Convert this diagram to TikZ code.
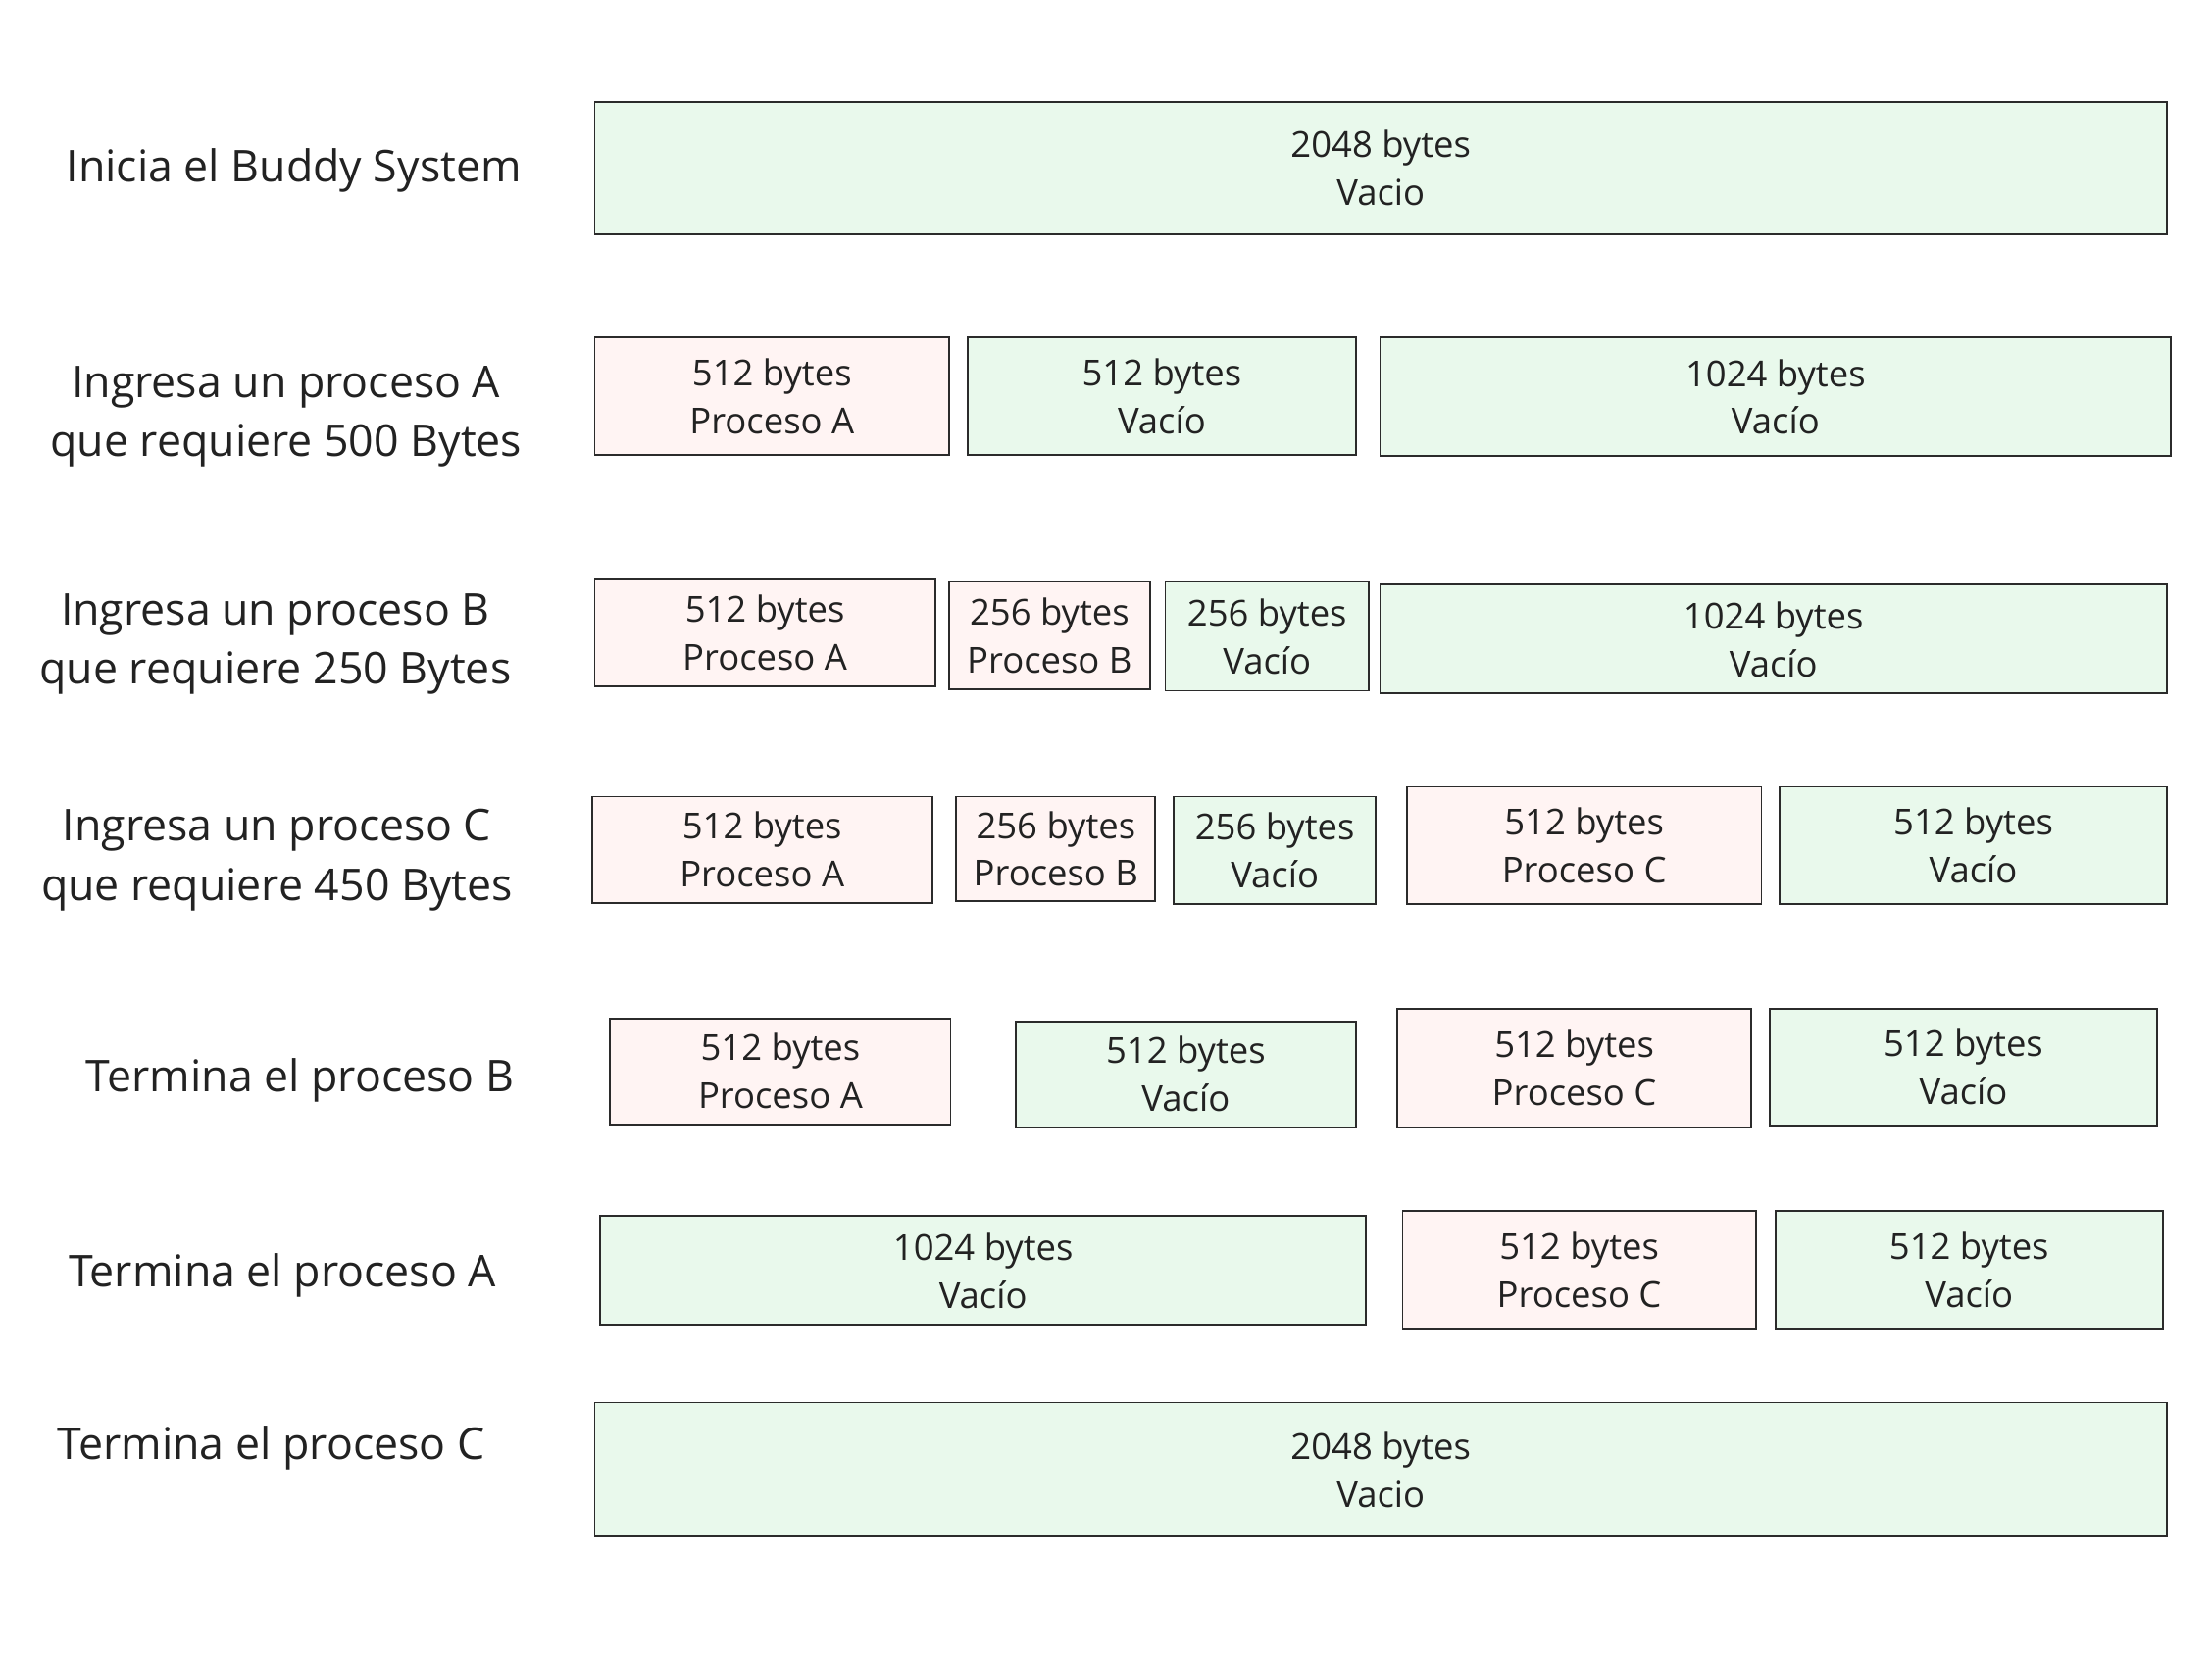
\documentclass[tikz,border=0pt]{standalone}
\usepackage{fontspec}
\setmainfont{Open Sans}
\definecolor{freefill}{HTML}{E9F9EC}
\definecolor{usedfill}{HTML}{FFF4F3}
\definecolor{edgecol}{HTML}{2B2B2B}
\definecolor{txtcol}{HTML}{222222}
\tikzset{
  blockbase/.style={draw=edgecol, line width=1.3pt, inner sep=0pt, outer sep=0pt,
    align=center, text=txtcol, font=\fontsize{25.3}{34}\selectfont},
  freeblk/.style={blockbase, fill=freefill},
  usedblk/.style={blockbase, fill=usedfill},
  steplabel/.style={align=center, text=txtcol, font=\fontsize{31}{42}\selectfont, inner sep=0pt}
}
\newcommand\blk[8]{%
  \node[#6, anchor=north west, minimum width={(#4-#2)*1pt}, minimum height={(#5-#3)*1pt}]
    (#1) at (#2,#3) {#7\\#8};}
\begin{document}
\begin{tikzpicture}[x=1pt,y=-1pt]
\useasboundingbox[fill=white] (0,0) rectangle (1566,1171);
% labels
\node[steplabel] (l1) at (208,121) {Inicia el Buddy System};
\node[steplabel] (l2) at (202.5,295) {Ingresa un proceso A\\que requiere 500 Bytes};
\node[steplabel] (l3) at (195,456) {Ingresa un proceso B\\que requiere 250 Bytes};
\node[steplabel] (l4) at (196,609) {Ingresa un proceso C\\que requiere 450 Bytes};
\node[steplabel] (l5) at (212.5,765) {Termina el proceso B};
\node[steplabel] (l6) at (200,903) {Termina el proceso A};
\node[steplabel] (l7) at (192,1025) {Termina el proceso C};
% row 1
\blk{r1a}{421}{72}{1534}{166}{freeblk}{2048 bytes}{Vacio}
% row 2
\blk{r2a}{421}{239}{672}{322}{usedblk}{512 bytes}{Proceso A}
\blk{r2b}{685}{239}{960}{322}{freeblk}{512 bytes}{Vacío}
\blk{r2c}{977}{239}{1537}{323}{freeblk}{1024 bytes}{Vacío}
% row 3
\blk{r3a}{421}{410}{662}{486}{usedblk}{512 bytes}{Proceso A}
\blk{r3b}{672}{412}{814}{488}{usedblk}{256 bytes}{Proceso B}
\blk{r3c}{825}{412}{969}{489}{freeblk}{256 bytes}{Vacío}
\blk{r3d}{977}{414}{1534}{491}{freeblk}{1024 bytes}{Vacío}
% row 4
\blk{r4a}{419}{564}{660}{639}{usedblk}{512 bytes}{Proceso A}
\blk{r4b}{677}{564}{818}{638}{usedblk}{256 bytes}{Proceso B}
\blk{r4c}{831}{564}{974}{640}{freeblk}{256 bytes}{Vacío}
\blk{r4d}{996}{557}{1247}{640}{usedblk}{512 bytes}{Proceso C}
\blk{r4e}{1260}{557}{1534}{640}{freeblk}{512 bytes}{Vacío}
% row 5
\blk{r5a}{432}{721}{673}{796}{usedblk}{512 bytes}{Proceso A}
\blk{r5b}{719}{723}{960}{798}{freeblk}{512 bytes}{Vacío}
\blk{r5c}{989}{714}{1240}{798}{usedblk}{512 bytes}{Proceso C}
\blk{r5d}{1253}{714}{1527}{797}{freeblk}{512 bytes}{Vacío}
% row 6
\blk{r6a}{425}{861}{967}{938}{freeblk}{1024 bytes}{Vacío}
\blk{r6b}{993}{857}{1243}{941}{usedblk}{512 bytes}{Proceso C}
\blk{r6c}{1257}{857}{1531}{941}{freeblk}{512 bytes}{Vacío}
% row 7
\blk{r7a}{421}{993}{1534}{1088}{freeblk}{2048 bytes}{Vacio}
\end{tikzpicture}
\end{document}
